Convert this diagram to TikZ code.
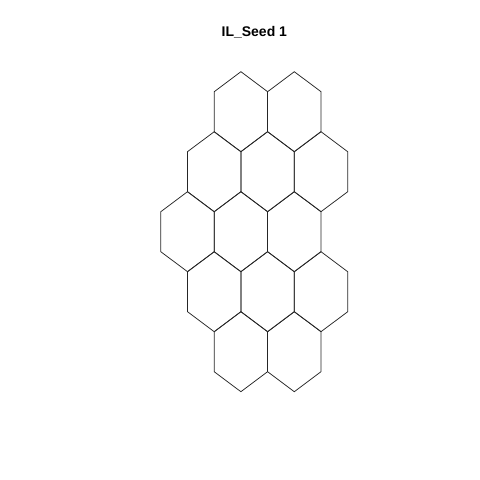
\documentclass[tikz,border=0pt]{standalone}
\usepackage{fontspec}
\setmainfont{Liberation Sans}

\begin{document}
\begin{tikzpicture}[
  x=1pt, y=-1pt,
  cell/.style={draw=black!85, line width=0.75pt, line join=miter},
  heading/.style={font=\bfseries\fontsize{14}{16}\selectfont, inner sep=0pt},
]
\useasboundingbox (0,0) rectangle (480,480);

\node[heading, anchor=base] (title) at (254.3,36.5) {IL\_Seed 1};

% cells: row / half-column index
\foreach \r/\k in {0/3, 0/5,
                   1/2, 1/4, 1/6,
                   2/1, 2/3, 2/5,
                   3/2, 3/4, 3/6,
                   4/3, 4/5}
  \draw[cell, shift={(160.8+26.7*\k, 111.7+60*\r)}]
    (0,-40) -- (26.7,-20) -- (26.7,20) -- (0,40) -- (-26.7,20) -- (-26.7,-20) -- cycle;
\end{tikzpicture}
\end{document}
